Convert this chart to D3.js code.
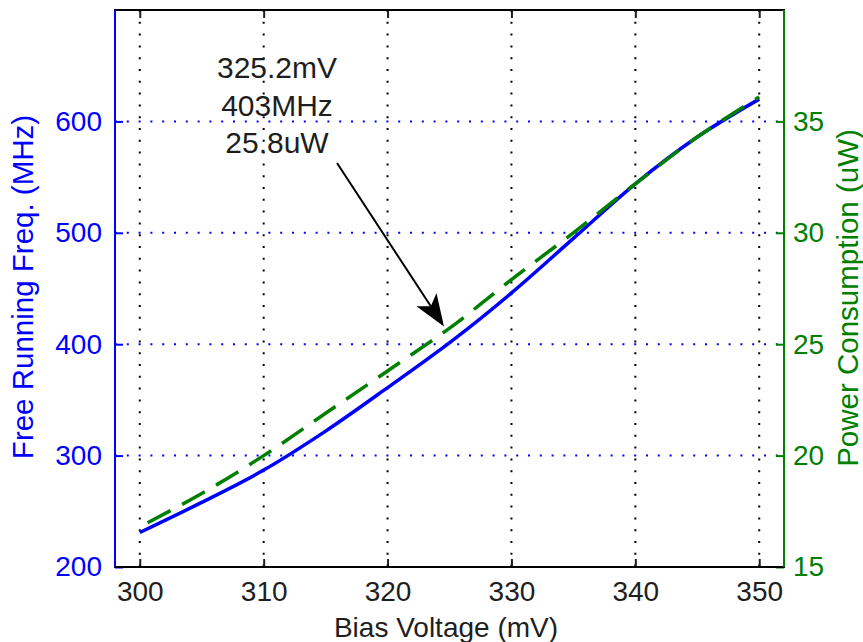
<!DOCTYPE html>
<html>
<head>
<meta charset="utf-8">
<script src="https://cdn.jsdelivr.net/npm/d3@7"></script>
<style>
  html, body { margin: 0; padding: 0; background: #fff; }
  svg { display: block; font-family: "Liberation Sans", Arial, Helvetica, sans-serif; }
</style>
</head>
<body>
<svg id="chart" width="863" height="642"></svg>
<script>
// Bias sweep of the oscillator: free-running frequency and power draw
const biasVoltage = [300, 305, 310, 315, 320, 325.2, 330, 335, 340, 345, 350];      // mV
const freqMHz     = [231, 258, 287, 322, 361, 403, 446, 495, 544, 586, 620];          // MHz
const powerUW     = [16.8, 18.3, 20.0, 21.9, 23.8, 25.8, 27.9, 30.0, 32.2, 34.3, 36.1]; // uW

const xTicks      = [300, 310, 320, 330, 340, 350];
const freqTicks   = [200, 300, 400, 500, 600];
const powerTicks  = [15, 20, 25, 30, 35];

// Highlighted operating point
const markVoltage = 325.2;
const markFreq    = 403;
const markPower   = 25.8;
const markLines   = [markVoltage + "mV", markFreq + "MHz", markPower + "uW"];

const BLUE = "#0000ff", GREEN = "#008000", INK = "#1e1e1e";
const plotLeft = 115, plotRight = 784, plotTop = 10, plotBottom = 567;

const svg = d3.select("#chart");

const x  = d3.scaleLinear().domain([298, 352]).range([plotLeft, plotRight]);
const yL = d3.scaleLinear().domain([200, 700]).range([plotBottom, plotTop]);
const yR = d3.scaleLinear().domain([15, 40]).range([plotBottom, plotTop]);

// dotted grid
const grid = svg.append("g");
grid.selectAll("line.vx").data(xTicks).join("line")
  .attr("x1", d => x(d)).attr("x2", d => x(d))
  .attr("y1", plotTop).attr("y2", plotBottom)
  .attr("stroke", "#000").attr("stroke-width", 2)
  .attr("stroke-dasharray", "2 9.8");
grid.selectAll("line.hy").data(freqTicks.slice(1)).join("line")
  .attr("x1", plotLeft).attr("x2", plotRight)
  .attr("y1", d => yL(d)).attr("y2", d => yL(d))
  .attr("stroke", BLUE).attr("stroke-width", 2)
  .attr("stroke-dasharray", "2 9.8");

// curves
const rows = biasVoltage.map((v, i) => ({ v, f: freqMHz[i], p: powerUW[i] }));
const freqLine = d3.line().x(d => x(d.v)).y(d => yL(d.f)).curve(d3.curveCatmullRom.alpha(0.5));
const powLine  = d3.line().x(d => x(d.v)).y(d => yR(d.p)).curve(d3.curveCatmullRom.alpha(0.5));

svg.append("path").datum(rows).attr("d", freqLine)
  .attr("fill", "none").attr("stroke", BLUE).attr("stroke-width", 3.5)
  .attr("stroke-linejoin", "round");
svg.append("path").datum(rows).attr("d", powLine)
  .attr("fill", "none").attr("stroke", GREEN).attr("stroke-width", 3.5)
  .attr("stroke-dasharray", "26 13").attr("stroke-dashoffset", 30);

// axes
const fontSize = 28;
function styleAxis(g, color) {
  g.select(".domain").remove();
  g.selectAll(".tick line").attr("stroke", color).attr("stroke-width", 2);
  g.selectAll(".tick text").attr("fill", color).attr("font-size", fontSize)
    .attr("font-family", "Liberation Sans, Arial, sans-serif");
}

svg.append("g").attr("transform", `translate(0,${plotBottom})`)
  .call(d3.axisBottom(x).tickValues(xTicks).tickSizeInner(-8).tickSizeOuter(0).tickPadding(14))
  .call(g => styleAxis(g, INK));
svg.append("g").attr("transform", `translate(0,${plotTop})`)
  .call(d3.axisTop(x).tickValues(xTicks).tickSizeInner(-8).tickSizeOuter(0).tickFormat(""))
  .call(g => styleAxis(g, INK));
svg.append("g").attr("transform", `translate(${plotLeft},0)`)
  .call(d3.axisLeft(yL).tickValues(freqTicks).tickSizeInner(-8).tickSizeOuter(0).tickPadding(13))
  .call(g => styleAxis(g, BLUE));
svg.append("g").attr("transform", `translate(${plotRight},0)`)
  .call(d3.axisRight(yR).tickValues(powerTicks).tickSizeInner(-8).tickSizeOuter(0).tickPadding(9))
  .call(g => styleAxis(g, GREEN));

// frame
const frame = svg.append("g").attr("stroke-width", 2);
frame.append("line").attr("x1", plotLeft - 1).attr("x2", plotRight + 1).attr("y1", plotTop).attr("y2", plotTop).attr("stroke", "#000");
frame.append("line").attr("x1", plotLeft - 1).attr("x2", plotRight + 1).attr("y1", plotBottom).attr("y2", plotBottom).attr("stroke", "#000");
frame.append("line").attr("x1", plotLeft).attr("x2", plotLeft).attr("y1", plotTop).attr("y2", plotBottom).attr("stroke", BLUE);
frame.append("line").attr("x1", plotRight).attr("x2", plotRight).attr("y1", plotTop).attr("y2", plotBottom).attr("stroke", GREEN);

// axis titles
svg.append("text").attr("x", 446).attr("y", 637).attr("text-anchor", "middle")
  .attr("font-size", 28).attr("fill", INK).text("Bias Voltage (mV)");
svg.append("text").attr("transform", "translate(33,287) rotate(-90)").attr("text-anchor", "middle")
  .attr("font-size", 29.5).attr("fill", BLUE).text("Free Running Freq. (MHz)");
svg.append("text").attr("transform", "translate(858,298) rotate(-90)").attr("text-anchor", "middle")
  .attr("font-size", 29.5).attr("fill", GREEN).text("Power Consumption (uW)");

// annotation text and arrow pointing at the operating point
const note = svg.append("g").attr("fill", INK).attr("font-size", 30).attr("text-anchor", "middle");
markLines.forEach((t, i) => {
  note.append("text").attr("x", 277).attr("y", 78 + i * 37.5).text(t);
});

const tip = [x(markVoltage) - 8, yR(markPower)];
const tail = [337, 163];
const dx = tail[0] - tip[0], dy = tail[1] - tip[1];
const len = Math.hypot(dx, dy);
const ux = dx / len, uy = dy / len;      // unit vector from tip toward tail
const nx = -uy, ny = ux;                 // normal
const headLen = 32, notch = 24, halfW = 12;
const wingA = [tip[0] + ux * headLen + nx * halfW, tip[1] + uy * headLen + ny * halfW];
const wingB = [tip[0] + ux * headLen - nx * halfW, tip[1] + uy * headLen - ny * halfW];
const back  = [tip[0] + ux * notch, tip[1] + uy * notch];

svg.append("line")
  .attr("x1", tail[0]).attr("y1", tail[1]).attr("x2", back[0]).attr("y2", back[1])
  .attr("stroke", "#000").attr("stroke-width", 2);
svg.append("path")
  .attr("d", "M" + [tip, wingA, back, wingB].map(p => p.join(",")).join("L") + "Z")
  .attr("fill", "#000");
</script>
</body>
</html>
